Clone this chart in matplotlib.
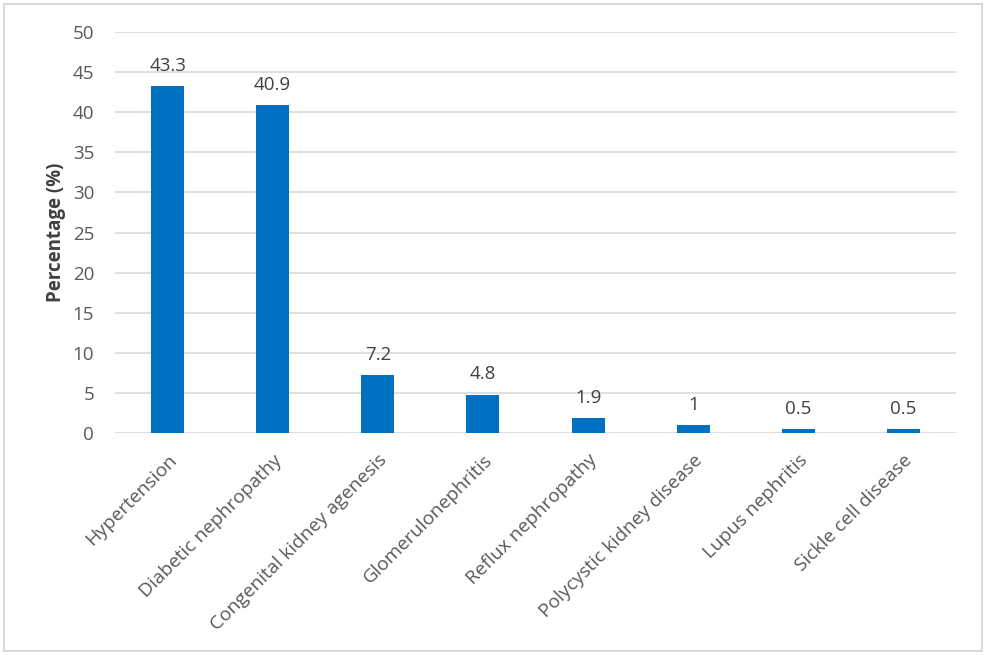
import matplotlib
matplotlib.use("Agg")
import matplotlib.pyplot as plt
from matplotlib.patches import Rectangle

categories = ["Hypertension", "Diabetic nephropathy", "Congenital kidney agenesis",
              "Glomerulonephritis", "Reflux nephropathy", "Polycystic kidney disease",
              "Lupus nephritis", "Sickle cell disease"]
values = [43.3, 40.9, 7.2, 4.8, 1.9, 1, 0.5, 0.5]
labels = ["43.3", "40.9", "7.2", "4.8", "1.9", "1", "0.5", "0.5"]
yticks = [0, 5, 10, 15, 20, 25, 30, 35, 40, 45, 50]

plt.rcParams['font.family'] = ['Open Sans', 'DejaVu Sans']
txt = "#595959"

fig = plt.figure(figsize=(9.86, 6.55), dpi=100)
ax = fig.add_axes([115/986, 1-433/655, (956-115)/986, (433-32)/655])

x = list(range(len(categories)))
ax.bar(x, values, width=0.315, color="#0070C0", zorder=3)
for xi, v, l in zip(x, values, labels):
    ax.annotate(l, (xi, v), xytext=(0, 8), textcoords="offset points",
                ha="center", va="bottom", fontsize=13.5, color="#404040")

ax.set_xlim(-0.5, len(categories) - 0.5)
ax.set_ylim(0, 50)
ax.set_yticks(yticks)
ax.set_yticklabels([str(t) for t in yticks], fontsize=13.5, color=txt)
ax.set_xticks(x)
ax.set_xticklabels(categories, rotation=45, ha="right", rotation_mode="anchor",
                   fontsize=13.8, color=txt)
ax.tick_params(axis="both", length=0)
ax.tick_params(axis="x", pad=13)
ax.tick_params(axis="y", pad=15)
ax.grid(axis="y", color="#D9D9D9", linewidth=1.2, zorder=0)
for s in ax.spines.values():
    s.set_visible(False)
ax.set_ylabel("Percentage (%)", fontsize=13.5, fontweight="bold", color="#404040", labelpad=5)

fig.patches.append(Rectangle((4/986, 4/655), (982-4)/986, (651-4)/655,
                             transform=fig.transFigure, fill=False,
                             edgecolor="#D0D0D0", linewidth=1.2))

fig.savefig("out.png", dpi=100)
